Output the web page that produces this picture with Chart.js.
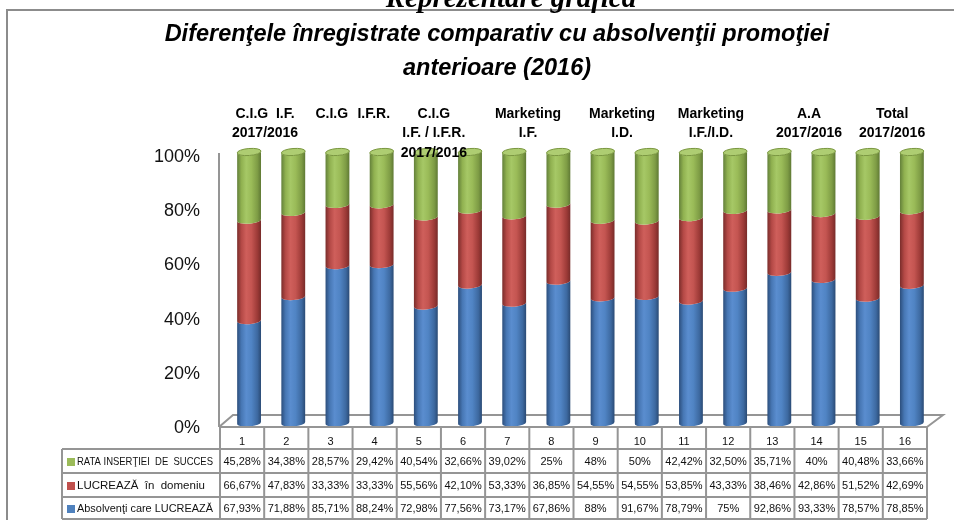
<!DOCTYPE html>
<html>
<head>
<meta charset="utf-8">
<script src="https://cdn.jsdelivr.net/npm/chart.js@4.4.1/dist/chart.umd.min.js"></script>
<style>
html,body{margin:0;padding:0;background:#fff;}
#wrap{position:relative;width:954px;height:520px;overflow:hidden;background:#fff;}
#frame{position:absolute;left:6px;top:9px;width:980px;height:540px;border-left:2px solid #8c8c8c;border-top:2px solid #8c8c8c;box-sizing:border-box;}
#hdr{position:absolute;left:0;width:1022px;top:-19px;text-align:center;font:bold italic 29px "Liberation Serif","DejaVu Serif",serif;color:#000;white-space:nowrap;}
#title{position:absolute;left:0;width:994px;top:16px;text-align:center;font:bold italic 23.5px "Liberation Sans",sans-serif;line-height:34px;color:#000;white-space:nowrap;}
canvas{position:absolute;left:0;top:0;}
</style>
</head>
<body>
<div id="wrap">
  <canvas id="c" width="954" height="520"></canvas>
  <div id="frame"></div>
  <div id="hdr">Reprezentare grafică</div>
  <div id="title">Diferenţele înregistrate comparativ cu absolvenţii promoţiei<br>anterioare (2016)</div>
</div>
<script>
// ---- data ----
const categories = ['1','2','3','4','5','6','7','8','9','10','11','12','13','14','15','16'];
const rataInsertiei = [45.28,34.38,28.57,29.42,40.54,32.66,39.02,25,48,50,42.42,32.50,35.71,40,40.48,33.66];
const lucreazaDomeniu = [66.67,47.83,33.33,33.33,55.56,42.10,53.33,36.85,54.55,54.55,53.85,43.33,38.46,42.86,51.52,42.69];
const absolventiLucreaza = [67.93,71.88,85.71,88.24,72.98,77.56,73.17,67.86,88,91.67,78.79,75,92.86,93.33,78.57,78.85];
const seriesNames = ['RATA INSERŢIEI  DE  SUCCES','LUCREAZĂ  în  domeniu','Absolvenţi care LUCREAZĂ'];
const yTickStep = 20;
const groupLabels = [
  ['C.I.G  I.F.','2017/2016'],
  ['C.I.G'],
  ['I.F.R.'],
  ['C.I.G','I.F. / I.F.R.','2017/2016'],
  ['Marketing','I.F.'],
  ['Marketing','I.D.'],
  ['Marketing','I.F./I.D.'],
  ['A.A','2017/2016'],
  ['Total','2017/2016']
];
const groupAt = [0.52, 2.03, 2.98, 4.34, 6.47, 8.6, 10.61, 12.83, 14.71];

// ---- derived ----
const totals = categories.map((_, i) => absolventiLucreaza[i] + lucreazaDomeniu[i] + rataInsertiei[i]);
const share = arr => arr.map((v, i) => v / totals[i] * 100);
const fmt = v => (Number.isInteger(v) ? String(v) : v.toFixed(2).replace('.', ',')) + '%';

const palettes = [
  {stops:['#2c4e7c','#4777b4','#5a8dcf','#5084c4','#3d69a0','#2a4a74'], cap:'#6c9cd8', capEdge:'#3d679c', legend:'#4f81bd'},
  {stops:['#7a2d2b','#b44946','#cf5f5b','#c45551','#9c3a37','#772b29'], cap:'#d6706c', capEdge:'#9b3a37', legend:'#c0504d'},
  {stops:['#63803a','#90b150','#a6c866','#9abb58','#7e9c45','#5f7934'], cap:'#aecd72', capEdge:'#79963f', legend:'#9bbb59'}
];
const stopPos = [0, 0.18, 0.38, 0.6, 0.85, 1];
const DX = 7;       // 3D depth shift of the cylinders
const RY = 3.5;     // ellipse half-height
const TILT = -0.08;

const lineCol = '#959595';

const cylPlugin = {
  id: 'cyl',
  beforeDatasetsDraw(chart) {
    const ctx = chart.ctx, a = chart.chartArea;
    ctx.save();
    ctx.strokeStyle = lineCol; ctx.lineWidth = 2;
    ctx.beginPath();
    ctx.moveTo(a.left - 1, a.top + 1); ctx.lineTo(a.left - 1, a.bottom + 4);
    ctx.stroke();
    ctx.beginPath();
    ctx.moveTo(a.left - 1, a.bottom + 4);
    ctx.lineTo(a.left + 13, a.bottom - 8);
    ctx.lineTo(a.right + 16, a.bottom - 8);
    ctx.lineTo(a.right, a.bottom + 4);
    ctx.stroke();
    ctx.restore();
  },
  afterDatasetsDraw(chart) {
    const ctx = chart.ctx;
    const n = chart.data.labels.length;
    const nd = chart.data.datasets.length;
    ctx.save();
    for (let i = 0; i < n; i++) {
      for (let d = 0; d < nd; d++) {
        const el = chart.getDatasetMeta(d).data[i];
        const pal = palettes[d];
        const cx = el.x + DX, rx = el.width / 2;
        const top = el.y, bottom = el.base;
        const g = ctx.createLinearGradient(cx - rx, 0, cx + rx, 0);
        pal.stops.forEach((c, k) => g.addColorStop(stopPos[k], c));
        ctx.beginPath();
        ctx.moveTo(cx - rx, top);
        ctx.lineTo(cx - rx, bottom);
        ctx.ellipse(cx, bottom, rx, RY, TILT, Math.PI, 0, true);
        ctx.lineTo(cx + rx, top);
        ctx.ellipse(cx, top, rx, RY, TILT, 0, Math.PI, false);
        ctx.closePath();
        ctx.fillStyle = g;
        ctx.fill();
        if (d === nd - 1) {
          ctx.beginPath();
          ctx.ellipse(cx, top, rx, RY, TILT, 0, Math.PI * 2);
          ctx.fillStyle = pal.cap;
          ctx.fill();
          ctx.strokeStyle = pal.capEdge; ctx.lineWidth = 1;
          ctx.stroke();
        }
      }
    }
    ctx.restore();
  },
  afterDraw(chart) {
    const ctx = chart.ctx, a = chart.chartArea, xs = chart.scales.x;
    ctx.save();
    // group labels above the cylinders
    ctx.fillStyle = '#000';
    ctx.font = 'bold 14px "Liberation Sans", sans-serif';
    ctx.textAlign = 'center'; ctx.textBaseline = 'middle';
    groupLabels.forEach((lines, k) => {
      const x = xs.getPixelForValue(groupAt[k]);
      lines.forEach((t, j) => ctx.fillText(t, x, a.top - 38 + j * 19.5));
    });
    // data table
    const n = chart.data.labels.length;
    const colW = (a.right - a.left) / n;
    const yRows = [a.bottom + 4, a.bottom + 26, a.bottom + 50, a.bottom + 74, a.bottom + 96];
    const legL = 62;
    ctx.strokeStyle = lineCol; ctx.lineWidth = 2;
    ctx.beginPath();
    ctx.moveTo(a.left - 1, yRows[0]); ctx.lineTo(a.right, yRows[0]);
    for (let r = 1; r < yRows.length; r++) { ctx.moveTo(legL, yRows[r]); ctx.lineTo(a.right, yRows[r]); }
    ctx.moveTo(legL, yRows[1]); ctx.lineTo(legL, yRows[4]);
    for (let c = 0; c <= n; c++) {
      const x = a.left + c * colW;
      ctx.moveTo(x, yRows[0]); ctx.lineTo(x, yRows[4]);
    }
    ctx.stroke();
    ctx.fillStyle = '#111';
    ctx.font = '11px "Liberation Sans", sans-serif';
    ctx.textAlign = 'center'; ctx.textBaseline = 'middle';
    chart.data.labels.forEach((lab, c) => ctx.fillText(lab, a.left + (c + 0.5) * colW, yRows[0] + 15));
    const rows = [rataInsertiei, lucreazaDomeniu, absolventiLucreaza];
    const rowPal = [palettes[2], palettes[1], palettes[0]];
    rows.forEach((arr, r) => {
      const yc = (yRows[r + 1] + yRows[r + 2]) / 2 + 1;
      ctx.font = '11px "Liberation Sans", sans-serif';
      arr.forEach((v, c) => ctx.fillText(fmt(v), a.left + (c + 0.5) * colW, yc, colW - 4));
      ctx.fillStyle = rowPal[r].legend;
      ctx.fillRect(legL + 5, yc - 4, 8, 8);
      ctx.fillStyle = '#111';
      ctx.textAlign = 'left';
      ctx.font = '11.5px "Liberation Sans", sans-serif';
      ctx.fillText(seriesNames[r], legL + 15, yc, a.left - legL - 22);
      ctx.textAlign = 'center';
    });
    ctx.restore();
  }
};

const hidden = 'rgba(0,0,0,0)';
new Chart(document.getElementById('c').getContext('2d'), {
  type: 'bar',
  data: {
    labels: categories,
    datasets: [
      {label: seriesNames[2], data: share(absolventiLucreaza), backgroundColor: hidden, borderColor: hidden, borderWidth: 0},
      {label: seriesNames[1], data: share(lucreazaDomeniu), backgroundColor: hidden, borderColor: hidden, borderWidth: 0},
      {label: seriesNames[0], data: share(rataInsertiei), backgroundColor: hidden, borderColor: hidden, borderWidth: 0}
    ]
  },
  options: {
    responsive: false,
    animation: false,
    layout: {padding: {left: 0, right: 27, top: 152, bottom: 97}},
    datasets: {bar: {categoryPercentage: 1, barPercentage: 0.54}},
    scales: {
      x: {stacked: true, display: false},
      y: {
        stacked: true, min: 0, max: 100,
        afterFit(s) { s.width = 220; },
        border: {display: false},
        grid: {display: false, drawTicks: false},
        ticks: {stepSize: yTickStep, padding: 20, labelOffset: 5, color: '#111',
                font: {family: '"Liberation Sans", sans-serif', size: 18},
                callback: v => v + '%'}
      }
    },
    plugins: {legend: {display: false}, tooltip: {enabled: false}, colors: {enabled: false}}
  },
  plugins: [cylPlugin]
});
</script>
</body>
</html>
